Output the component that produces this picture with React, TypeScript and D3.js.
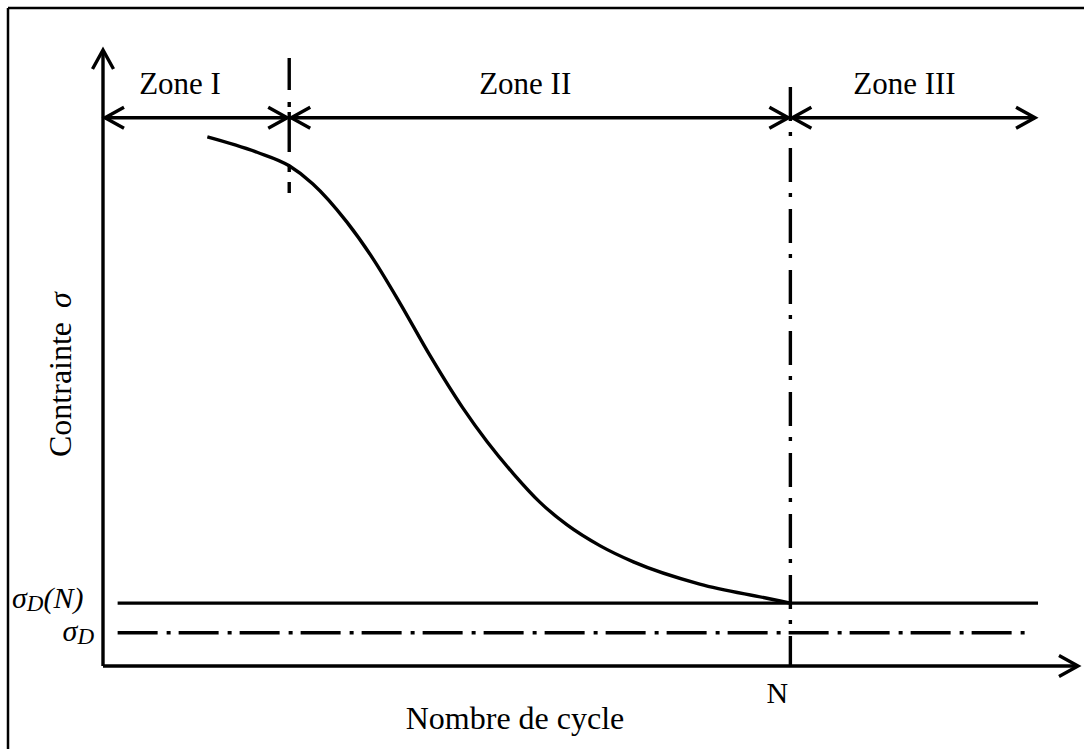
import React from "react";
import * as d3 from "d3";

// S-N (Wöhler) fatigue curve — stress versus number of cycles, three zones.
const curveCycles = [10.7, 15.8, 19.1, 21.5, 25.0, 27.7, 30.5, 33.5, 36.9, 39.4, 42.1, 44.8, 47.6, 51.0, 54.4, 61.2, 68.1, 70.5];
const curveStress = [85.9, 83.4, 81.2, 78.3, 72.1, 66.1, 58.8, 50.5, 41.9, 36.4, 31.2, 26.6, 22.9, 19.5, 16.9, 13.3, 11.0, 10.2];

const zoneNames = ["Zone I", "Zone II", "Zone III"];
const zoneEdges = [0, 19.1, 70.5, 95.8];
const zoneLabelX = [7.9, 43.3, 82.2];
const zoneArrowLevel = 89.0;

const cyclesN = 70.5;
const sigmaDN = 10.2;
const sigmaD = 5.4;

const W = 1084;
const H = 749;

const x = d3.scaleLinear().domain([0, 100]).range([103, 1078]);
const y = d3.scaleLinear().domain([0, 100]).range([666, 50]);

const FONT = "'Liberation Serif', 'Times New Roman', serif";
const SW = 3.4;

function chevron(tx: number, ty: number, dx: number, dy: number, len = 19, half = 10.5) {
  const nx = -dy;
  const ny = dx;
  const p = d3.path();
  p.moveTo(tx - len * dx + half * nx, ty - len * dy + half * ny);
  p.lineTo(tx, ty);
  p.lineTo(tx - len * dx - half * nx, ty - len * dy - half * ny);
  return p.toString();
}

export default function App() {
  const line = d3
    .line<number>()
    .x((_, i) => x(curveCycles[i]))
    .y((d) => y(d))
    .curve(d3.curveMonotoneX);

  const ya = y(zoneArrowLevel);

  return (
    <svg
      width={W}
      height={H}
      style={{ position: "absolute", left: 0, top: 0, background: "#fff" }}
    >
      {/* page frame */}
      <line x1={8} y1={8} x2={W} y2={8} stroke="#000" strokeWidth={2.5} />
      <line x1={8} y1={8} x2={8} y2={H} stroke="#000" strokeWidth={2.5} />

      <g fill="none" stroke="#000" strokeWidth={SW} strokeLinecap="butt">
        {/* axes */}
        <line x1={x(0)} y1={y(0)} x2={x(0)} y2={y(100)} />
        <path d={chevron(x(0), y(100), 0, -1)} />
        <line x1={x(0)} y1={y(0)} x2={x(100)} y2={y(0)} />
        <path d={chevron(x(100), y(0), 1, 0)} />

        {/* zone boundaries */}
        <line
          x1={x(zoneEdges[1])}
          x2={x(zoneEdges[1])}
          y1={y(98.7)}
          y2={y(76.8)}
          strokeDasharray="32 12 5 5 40 13 7 10 13 0"
        />
        <line
          x1={x(cyclesN)}
          x2={x(cyclesN)}
          y1={y(94.0)}
          y2={y(0)}
          strokeDasharray="34 11 4 12"
        />

        {/* zone arrows */}
        {zoneNames.map((_, i) => {
          const a = x(zoneEdges[i]) + 2;
          const b = x(zoneEdges[i + 1]) - 2;
          return (
            <g key={i}>
              <line x1={a} y1={ya} x2={b} y2={ya} />
              <path d={chevron(a, ya, -1, 0)} />
              <path d={chevron(b, ya, 1, 0)} />
            </g>
          );
        })}

        {/* endurance limits */}
        <line x1={x(1.5)} x2={x(95.9)} y1={y(sigmaDN)} y2={y(sigmaDN)} />
        <line
          x1={x(1.5)}
          x2={x(94.8)}
          y1={y(sigmaD)}
          y2={y(sigmaD)}
          strokeDasharray="40 9 4 8"
        />

        {/* S-N curve */}
        <path d={line(curveStress) || ""} strokeLinejoin="round" />
      </g>

      <g fontFamily={FONT} fill="#000">
        {zoneNames.map((n, i) => (
          <text key={n} x={x(zoneLabelX[i])} y={94} fontSize={31} textAnchor="middle">
            {n}
          </text>
        ))}
        <text x={x(cyclesN) - 13} y={703} fontSize={30} textAnchor="middle">
          N
        </text>
        <text x={515} y={729} fontSize={32} textAnchor="middle">
          Nombre de cycle
        </text>
        <text transform="translate(71,457) rotate(-90)" fontSize={32}>
          Contrainte
          <tspan dx={14} fontStyle="italic">σ</tspan>
        </text>
        <text x={12} y={y(sigmaDN) + 5} fontSize={30} fontStyle="italic">
          σ<tspan fontSize={23} dy={3}>D</tspan>
          <tspan dy={-3}>(N)</tspan>
        </text>
        <text x={94} y={y(sigmaD) + 8} fontSize={30} fontStyle="italic" textAnchor="end">
          σ<tspan fontSize={23} dy={3}>D</tspan>
        </text>
      </g>
    </svg>
  );
}
